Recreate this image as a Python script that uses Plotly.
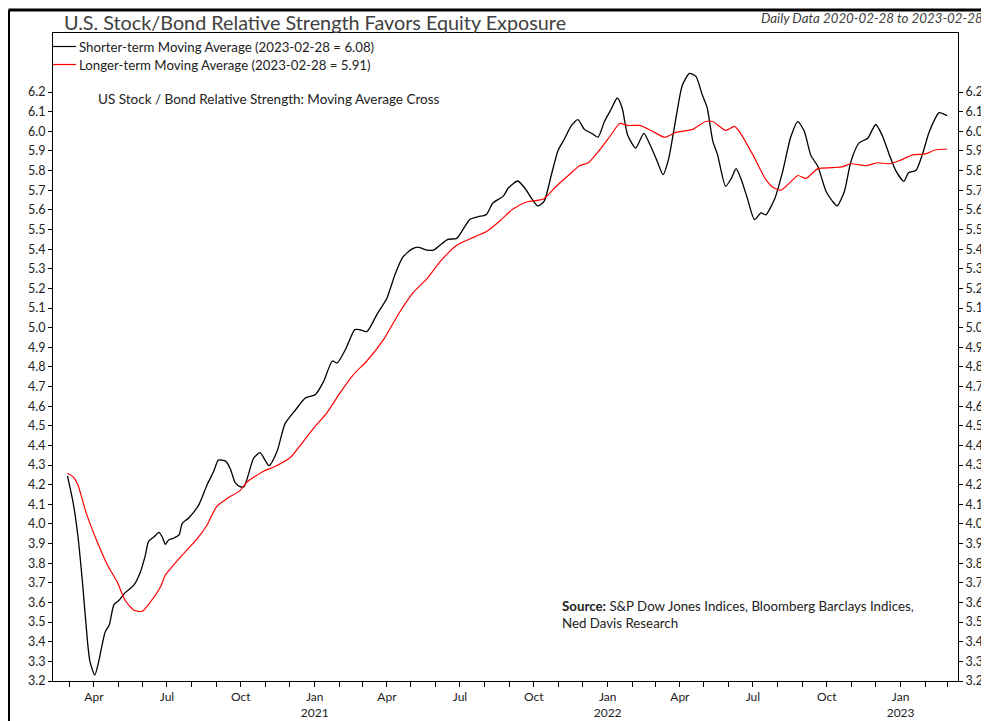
import plotly.graph_objects as go

short_dates = ["2020-02-28","2020-03-06","2020-03-12","2020-03-18","2020-03-24","2020-03-27","2020-04-02","2020-04-07",
"2020-04-11","2020-04-15","2020-04-20","2020-04-26","2020-05-02","2020-05-10","2020-05-21","2020-05-29","2020-06-04",
"2020-06-08","2020-06-15","2020-06-21","2020-06-25","2020-06-29","2020-07-03","2020-07-09","2020-07-16","2020-07-20",
"2020-07-28","2020-08-10","2020-08-20","2020-08-28","2020-09-03","2020-09-12","2020-09-18","2020-09-24","2020-09-30",
"2020-10-05","2020-10-17","2020-10-25","2020-11-05","2020-11-15","2020-11-25","2020-12-08","2020-12-20","2021-01-02",
"2021-01-12","2021-01-23","2021-01-29","2021-02-08","2021-02-20","2021-02-26","2021-03-07","2021-03-20","2021-04-01",
"2021-04-11","2021-04-21","2021-05-02","2021-05-10","2021-05-21","2021-05-29","2021-06-06","2021-06-16","2021-06-27",
"2021-07-13","2021-07-24","2021-08-03","2021-08-11","2021-08-24","2021-08-30","2021-09-11","2021-09-20","2021-09-28",
"2021-10-06","2021-10-14","2021-10-23","2021-10-31","2021-11-08","2021-11-17","2021-11-25","2021-12-03","2021-12-12",
"2021-12-20","2021-12-28","2022-01-05","2022-01-13","2022-01-19","2022-01-26","2022-02-05","2022-02-15","2022-02-23",
"2022-03-04","2022-03-11","2022-03-18","2022-03-27","2022-04-04","2022-04-13","2022-04-21","2022-04-29","2022-05-05",
"2022-05-12","2022-05-18","2022-05-28","2022-06-04","2022-06-10","2022-06-16","2022-06-24","2022-07-03","2022-07-11",
"2022-07-17","2022-07-28","2022-08-07","2022-08-17","2022-08-26","2022-09-03","2022-09-11","2022-09-20","2022-09-30",
"2022-10-08","2022-10-14","2022-10-23","2022-10-31","2022-11-10","2022-11-21","2022-12-01","2022-12-09","2022-12-18",
"2022-12-26","2023-01-05","2023-01-11","2023-01-20","2023-01-28","2023-02-05","2023-02-13","2023-02-18","2023-02-28"]
short_values = [4.245,4.11,3.94,3.69,3.40,3.30,3.23,3.30,
3.38,3.45,3.485,3.59,3.61,3.65,3.69,3.757,3.84,
3.91,3.935,3.957,3.935,3.896,3.918,3.927,3.944,4.003,
4.03,4.10,4.20,4.266,4.325,4.32,4.28,4.21,4.19,
4.19,4.335,4.363,4.297,4.368,4.51,4.58,4.64,4.66,
4.725,4.83,4.82,4.886,4.99,4.99,4.98,5.07,5.15,
5.27,5.36,5.40,5.41,5.395,5.395,5.42,5.45,5.455,
5.55,5.565,5.577,5.635,5.67,5.71,5.747,5.71,5.66,
5.62,5.645,5.78,5.90,5.96,6.03,6.06,6.01,5.99,
5.97,6.05,6.11,6.17,6.12,5.98,5.915,5.99,5.93,
5.845,5.78,5.86,6.065,6.235,6.295,6.28,6.185,6.12,
5.95,5.88,5.72,5.76,5.81,5.76,5.66,5.55,5.585,
5.575,5.655,5.795,5.97,6.05,6.00,5.88,5.82,5.695,
5.645,5.62,5.695,5.845,5.94,5.965,6.035,5.98,5.88,
5.80,5.745,5.79,5.80,5.88,5.99,6.065,6.095,6.08]

long_dates = ["2020-02-28","2020-03-06","2020-03-12","2020-03-22","2020-04-03","2020-04-18","2020-04-30","2020-05-10",
"2020-05-21","2020-05-31","2020-06-10","2020-06-23","2020-06-29","2020-07-09","2020-07-22","2020-08-08","2020-08-20",
"2020-09-01","2020-09-14","2020-09-30","2020-10-09","2020-10-30","2020-11-11","2020-12-02","2020-12-14","2020-12-31",
"2021-01-16","2021-02-02","2021-02-18","2021-03-07","2021-03-28","2021-04-17","2021-05-04","2021-05-21","2021-06-06",
"2021-06-27","2021-07-18","2021-08-03","2021-08-20","2021-09-05","2021-09-22","2021-10-13","2021-10-29","2021-11-13",
"2021-11-27","2021-12-08","2021-12-22","2022-01-04","2022-01-16","2022-01-26","2022-02-10","2022-02-26","2022-03-13",
"2022-03-27","2022-04-17","2022-05-03","2022-05-12","2022-05-28","2022-06-08","2022-06-14","2022-07-01","2022-07-17",
"2022-07-26","2022-08-05","2022-08-15","2022-08-26","2022-09-05","2022-09-20","2022-10-08","2022-10-21","2022-10-31",
"2022-11-19","2022-12-03","2022-12-18","2022-12-30","2023-01-16","2023-02-01","2023-02-13","2023-02-28"]
long_values = [4.258,4.24,4.20,4.06,3.93,3.79,3.705,3.61,
3.56,3.555,3.60,3.68,3.74,3.79,3.85,3.927,3.995,
4.09,4.13,4.17,4.215,4.27,4.29,4.34,4.40,4.49,
4.565,4.67,4.76,4.83,4.94,5.08,5.18,5.25,5.335,
5.42,5.46,5.49,5.545,5.605,5.64,5.655,5.72,5.775,
5.825,5.84,5.905,5.975,6.04,6.03,6.03,6.00,5.97,
5.995,6.01,6.05,6.05,6.005,6.025,6.00,5.88,5.755,
5.715,5.70,5.735,5.775,5.76,5.81,5.815,5.82,5.835,
5.825,5.84,5.835,5.85,5.88,5.885,5.905,5.91]

x_tick_vals = ["2020-04-01","2020-07-01","2020-10-01","2021-01-01","2021-04-01","2021-07-01","2021-10-01",
               "2022-01-01","2022-04-01","2022-07-01","2022-10-01","2023-01-01"]
x_tick_text = ["Apr","Jul","Oct","Jan<br>2021","Apr","Jul","Oct","Jan<br>2022","Apr","Jul","Oct","Jan<br>2023"]
y_tick_vals = [round(3.2 + 0.1 * i, 1) for i in range(31)]
y_tick_text = [f"{v:.1f}" for v in y_tick_vals]

short_name = "Shorter-term Moving Average (2023-02-28 = 6.08)"
long_name = "Longer-term Moving Average (2023-02-28 = 5.91)"

FONT = "Lato, 'Open Sans', sans-serif"
TXT = "#222222"
y_range = [3.2, 6.501]

# screen-pixel helpers (page body adds 8px offset; figure is 8px smaller than window)
PL, PR, PT, PB = 53, 958, 33, 681


def px_x(x):
    return (x - PL) / (PR - PL)


def px_y(y):
    return (PB - y) / (PB - PT)


fig = go.Figure()
fig.add_trace(go.Scatter(x=short_dates, y=short_values, mode="lines", name=short_name,
                         line=dict(color="#000000", width=1.3, shape="spline", smoothing=0.6)))
fig.add_trace(go.Scatter(x=long_dates, y=long_values, mode="lines", name=long_name, yaxis="y2",
                         line=dict(color="#ff0000", width=1.2, shape="spline", smoothing=0.6)))

axis_common = dict(showgrid=False, zeroline=False, showline=True, linecolor="#000000", linewidth=1,
                   ticks="outside", ticklen=4, tickcolor="#000000", automargin=False,
                   tickfont=dict(family=FONT, size=12.5, color=TXT))

fig.update_layout(
    width=981, height=713,
    margin=dict(l=PL - 8, r=989 - PR, t=PT - 8, b=721 - PB, autoexpand=False),
    paper_bgcolor="white", plot_bgcolor="white",
    showlegend=False,
    xaxis=dict(type="date", range=["2020-02-10", "2023-03-13 12:00"],
               tickvals=x_tick_vals, ticktext=x_tick_text, mirror=True,
               minor=dict(dtick="M1", tick0="2020-01-01", ticks="outside", ticklen=5, tickcolor="#000000"),
               **{**axis_common, "ticklen": 5, "tickfont": dict(family=FONT, size=12, color=TXT)}),
    yaxis=dict(range=y_range, tickvals=y_tick_vals, ticktext=y_tick_text, side="left", mirror=True, **axis_common),
    yaxis2=dict(range=y_range, tickvals=y_tick_vals, ticktext=y_tick_text, side="right", overlaying="y", **axis_common),
)

# outer frame (left and top edges)
fig.add_shape(type="line", xref="paper", yref="paper", x0=px_x(8.5), x1=px_x(8.5), y0=px_y(730), y1=px_y(10),
              line=dict(color="#000000", width=3))
fig.add_shape(type="line", xref="paper", yref="paper", x0=px_x(8.5), x1=px_x(1000), y0=px_y(10), y1=px_y(10),
              line=dict(color="#000000", width=3))

# title and subtitle
fig.add_annotation(xref="paper", yref="paper", x=px_x(62), y=px_y(22), xanchor="left", yanchor="middle",
                   text="U.S. Stock/Bond Relative Strength Favors Equity Exposure", showarrow=False,
                   font=dict(family=FONT, size=19.8, color="#404040"))
fig.add_annotation(xref="paper", yref="paper", x=px_x(985), y=px_y(18), xanchor="right", yanchor="middle",
                   text="<i>Daily Data 2020-02-28 to 2023-02-28</i>", showarrow=False,
                   font=dict(family=FONT, size=13.3, color="#404040"))

# legend (manual)
for i, (nm, col) in enumerate([(short_name, "#000000"), (long_name, "#ff0000")]):
    yp = px_y(46.5 + 18 * i)
    fig.add_shape(type="line", xref="paper", yref="paper", x0=0.0, x1=px_x(76),
                  y0=yp, y1=yp, line=dict(color=col, width=1.2))
    fig.add_annotation(xref="paper", yref="paper", x=px_x(77), y=yp, xanchor="left", yanchor="middle",
                       text=nm, showarrow=False, font=dict(family=FONT, size=13.25, color=TXT))

fig.add_annotation(xref="paper", yref="paper", x=px_x(96), y=px_y(99), xanchor="left",
                   yanchor="middle", text="US Stock / Bond Relative Strength: Moving Average Cross",
                   showarrow=False, font=dict(family=FONT, size=13.5, color=TXT))

fig.add_annotation(xref="paper", yref="paper", x=px_x(560), y=px_y(614.5), xanchor="left",
                   yanchor="middle", align="left",
                   text="<b>Source:</b> S&P Dow Jones Indices, Bloomberg Barclays Indices,<br>Ned Davis Research",
                   showarrow=False, font=dict(family=FONT, size=13.3, color=TXT))

fig.write_html("out.html")
